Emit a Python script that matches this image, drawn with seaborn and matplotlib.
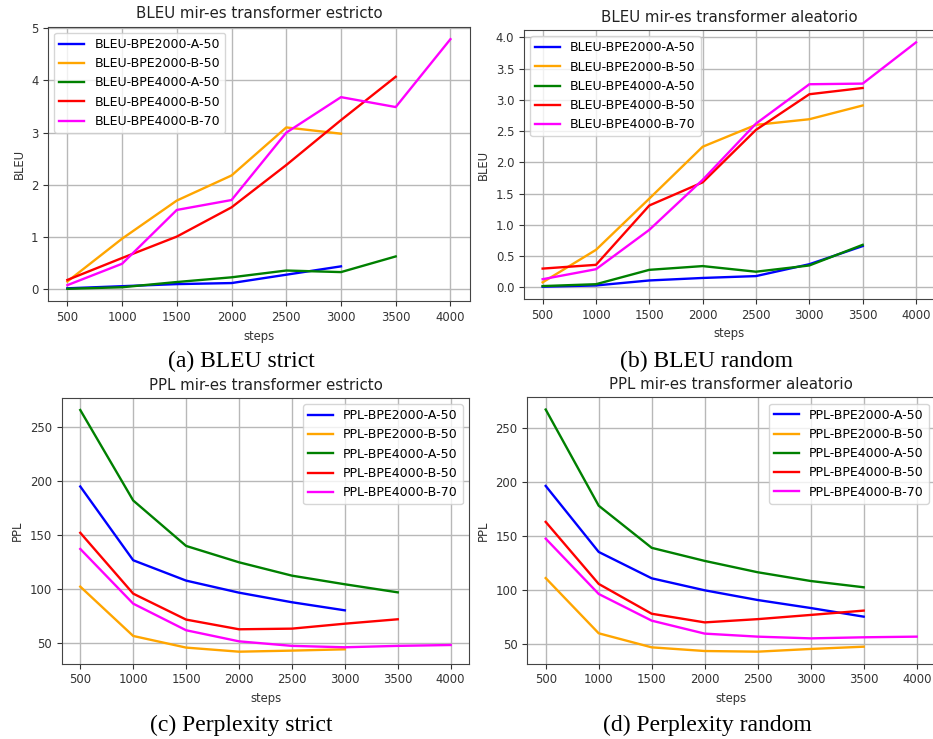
import pandas as pd
import matplotlib
matplotlib.use('Agg')
import matplotlib.pyplot as plt
import seaborn as sns

# steps for each run length
steps_3000 = [500, 1000, 1500, 2000, 2500, 3000]
steps_3500 = [500, 1000, 1500, 2000, 2500, 3000, 3500]
steps_4000 = [500, 1000, 1500, 2000, 2500, 3000, 3500, 4000]

# BLEU strict (estricto)
bleu_strict_a2000 = [0.02, 0.06, 0.10, 0.12, 0.28, 0.44]
bleu_strict_b2000 = [0.15, 0.97, 1.70, 2.18, 3.10, 2.98]
bleu_strict_a4000 = [0.01, 0.04, 0.14, 0.23, 0.36, 0.33, 0.63]
bleu_strict_b4000 = [0.18, 0.60, 1.01, 1.57, 2.38, 3.24, 4.07]
bleu_strict_b4000_70 = [0.08, 0.49, 1.52, 1.71, 3.00, 3.68, 3.49, 4.79]

# BLEU random (aleatorio)
bleu_rand_a2000 = [0.01, 0.03, 0.11, 0.15, 0.18, 0.37, 0.66]
bleu_rand_b2000 = [0.08, 0.60, 1.42, 2.25, 2.60, 2.69, 2.91]
bleu_rand_a4000 = [0.02, 0.05, 0.28, 0.34, 0.25, 0.35, 0.68]
bleu_rand_b4000 = [0.30, 0.36, 1.31, 1.68, 2.52, 3.09, 3.19]
bleu_rand_b4000_70 = [0.13, 0.29, 0.92, 1.72, 2.62, 3.25, 3.26, 3.92]

# PPL strict
ppl_strict_a2000 = [195, 126.5, 107.6, 96.4, 87.5, 80]
ppl_strict_b2000 = [102, 56.2, 45.4, 41.6, 42.6, 43.8]
ppl_strict_a4000 = [266, 182, 139.8, 124.6, 112.2, 104.2, 96.7]
ppl_strict_b4000 = [152, 95.5, 71.4, 62.4, 63, 67.6, 71.7]
ppl_strict_b4000_70 = [137, 86.2, 61.5, 51.2, 47, 45.7, 47, 47.8]

# PPL random
ppl_rand_a2000 = [196.3, 135.2, 110.8, 99.7, 90.7, 83.3, 75.3]
ppl_rand_b2000 = [111, 59.9, 46.9, 43.5, 42.9, 45.4, 47.5]
ppl_rand_a4000 = [267, 178, 139, 126.9, 116.4, 108.3, 102.5]
ppl_rand_b4000 = [163, 105.6, 78, 70, 73, 76.9, 80.9]
ppl_rand_b4000_70 = [147.5, 96.3, 71.6, 59.6, 56.8, 55.2, 56.2, 56.8]

run_names = ['BPE2000-A-50', 'BPE2000-B-50', 'BPE4000-A-50', 'BPE4000-B-50', 'BPE4000-B-70']
colors = ['blue', 'orange', 'green', 'red', 'magenta']

panels = [
    dict(metric='BLEU', title='BLEU mir-es transformer estricto', caption='(a) BLEU strict',
         steps=[steps_3000, steps_3000, steps_3500, steps_3500, steps_4000],
         values=[bleu_strict_a2000, bleu_strict_b2000, bleu_strict_a4000, bleu_strict_b4000, bleu_strict_b4000_70],
         loc='upper left', rect=[0.0517, 0.5923, 0.4516, 0.3716], yticks=[0, 1, 2, 3, 4, 5], fmt='{:.0f}'),
    dict(metric='BLEU', title='BLEU mir-es transformer aleatorio', caption='(b) BLEU random',
         steps=[steps_3500, steps_3500, steps_3500, steps_3500, steps_4000],
         values=[bleu_rand_a2000, bleu_rand_b2000, bleu_rand_a4000, bleu_rand_b4000, bleu_rand_b4000_70],
         loc='upper left', rect=[0.5616, 0.5955, 0.4402, 0.3637],
         yticks=[0, 0.5, 1, 1.5, 2, 2.5, 3, 3.5, 4], fmt='{:.1f}'),
    dict(metric='PPL', title='PPL mir-es transformer estricto', caption='(c) Perplexity strict',
         steps=[steps_3000, steps_3000, steps_3500, steps_3500, steps_4000],
         values=[ppl_strict_a2000, ppl_strict_b2000, ppl_strict_a4000, ppl_strict_b4000, ppl_strict_b4000_70],
         loc='upper right', rect=[0.0662, 0.1018, 0.4367, 0.3597], yticks=[50, 100, 150, 200, 250], fmt='{:.0f}'),
    dict(metric='PPL', title='PPL mir-es transformer aleatorio', caption='(d) Perplexity random',
         steps=[steps_3500, steps_3500, steps_3500, steps_3500, steps_4000],
         values=[ppl_rand_a2000, ppl_rand_b2000, ppl_rand_a4000, ppl_rand_b4000, ppl_rand_b4000_70],
         loc='upper right', rect=[0.5650, 0.1018, 0.4374, 0.3604], yticks=[50, 100, 150, 200, 250], fmt='{:.0f}'),
]

caption_pos = [(241, 361), (706, 361), (241, 725), (707, 725)]

fig = plt.figure(figsize=(9.33, 7.39), dpi=100)

for p, (cx, cy) in zip(panels, caption_pos):
    ax = fig.add_axes(p['rect'])
    for name, color, xs, ys in zip(run_names, colors, p['steps'], p['values']):
        df = pd.DataFrame({'steps': xs, p['metric']: ys})
        sns.lineplot(data=df, x='steps', y=p['metric'], color=color, linewidth=1.7,
                     label=f"{p['metric']}-{name}", ax=ax)
    ax.set_xticks(steps_4000)
    ax.set_yticks(p['yticks'])
    ax.set_yticklabels([p['fmt'].format(v) for v in p['yticks']])
    ax.grid(True, color='#b8b8b8', linewidth=1.0)
    ax.tick_params(labelsize=8.4, colors='#333333')
    for s in ax.spines.values():
        s.set_color('#444444')
    ax.set_title(p['title'], fontsize=10.8, color='#222222')
    ax.set_xlabel('steps', fontsize=8.4, color='#333333')
    ax.set_ylabel(p['metric'], fontsize=8.4, color='#333333')
    ax.legend(loc=p['loc'], fontsize=9)
    fig.text(cx / 933, 1 - cy / 739, p['caption'], ha='center', va='center',
             fontsize=17, family='Liberation Serif')

fig.savefig('out.png', dpi=100)
